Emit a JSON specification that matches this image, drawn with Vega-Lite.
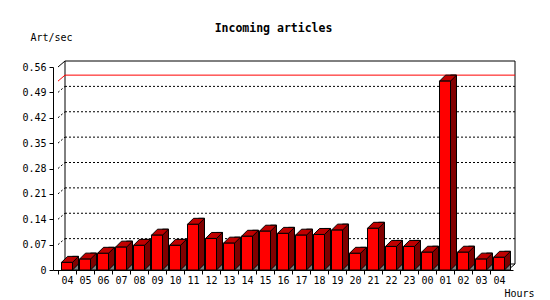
{
  "$schema": "https://vega.github.io/schema/vega-lite/v6.json",
  "width": 460,
  "height": 203,
  "autosize": {"type": "none"},
  "padding": {"left": 53, "top": 67, "right": 37, "bottom": 30},
  "background": "white",
  "config": {
    "view": {"stroke": null},
    "font": "DejaVu Sans Mono",
    "axis": {"labelFont": "DejaVu Sans Mono", "titleFont": "DejaVu Sans Mono", "labelFontSize": 10, "titleFontSize": 10, "titleFontWeight": "normal", "labelColor": "black", "titleColor": "black", "domainColor": "black", "tickColor": "black", "grid": false, "labelOverlap": false, "labelFlush": false, "labelBound": false}
  },
  "title": {"text": "Incoming articles", "font": "DejaVu Sans Mono", "fontSize": 11.5, "fontWeight": "bold", "color": "black", "frame": "group", "anchor": "middle", "dx": -9.5, "offset": -11, "baseline": "alphabetic"},
  "datasets": {
    "rates": [
      {"i": 0, "hour": "04", "rate": 0.021},
      {"i": 1, "hour": "05", "rate": 0.030},
      {"i": 2, "hour": "06", "rate": 0.046},
      {"i": 3, "hour": "07", "rate": 0.063},
      {"i": 4, "hour": "08", "rate": 0.068},
      {"i": 5, "hour": "09", "rate": 0.096},
      {"i": 6, "hour": "10", "rate": 0.068},
      {"i": 7, "hour": "11", "rate": 0.126},
      {"i": 8, "hour": "12", "rate": 0.087},
      {"i": 9, "hour": "13", "rate": 0.074},
      {"i": 10, "hour": "14", "rate": 0.093},
      {"i": 11, "hour": "15", "rate": 0.107},
      {"i": 12, "hour": "16", "rate": 0.101},
      {"i": 13, "hour": "17", "rate": 0.096},
      {"i": 14, "hour": "18", "rate": 0.098},
      {"i": 15, "hour": "19", "rate": 0.110},
      {"i": 16, "hour": "20", "rate": 0.046},
      {"i": 17, "hour": "21", "rate": 0.115},
      {"i": 18, "hour": "22", "rate": 0.065},
      {"i": 19, "hour": "23", "rate": 0.065},
      {"i": 20, "hour": "00", "rate": 0.049},
      {"i": 21, "hour": "01", "rate": 0.521},
      {"i": 22, "hour": "02", "rate": 0.049},
      {"i": 23, "hour": "03", "rate": 0.030},
      {"i": 24, "hour": "04", "rate": 0.035}
    ],
    "grid": [{"v": 0.07}, {"v": 0.14}, {"v": 0.21}, {"v": 0.28}, {"v": 0.35}, {"v": 0.42}, {"v": 0.49}],
    "one": [{"k": 1}]
  },
  "layer": [
    {
      "data": {"name": "one"},
      "mark": {"type": "rect", "fill": "white", "fillOpacity": 0, "stroke": "black", "strokeWidth": 1, "xOffset": 7, "x2Offset": 7, "yOffset": -6, "y2Offset": -6},
      "encoding": {
        "x": {"datum": -0.5, "type": "quantitative", "scale": {"domain": [-0.5, 24.5], "nice": false, "zero": false},
          "axis": {
            "values": [0,1,2,3,4,5,6,7,8,9,10,11,12,13,14,15,16,17,18,19,20,21,22,23,24],
            "tickCount": 30,
            "labelExpr": "['04','05','06','07','08','09','10','11','12','13','14','15','16','17','18','19','20','21','22','23','00','01','02','03','04'][datum.value]",
            "tickOffset": -9.2, "labelOffset": 9.2, "tickSize": 4, "labelPadding": 1,
            "labelAngle": 0, "labelFlush": false, "labelOverlap": false, "labelBound": false,
            "title": "Hours", "titleX": 451, "titleY": 26, "titleAlign": "left", "titleBaseline": "alphabetic"
          }},
        "x2": {"datum": 24.5},
        "y": {"datum": 0, "type": "quantitative", "scale": {"domain": [0, 0.56], "nice": false},
          "axis": {
            "values": [0, 0.07, 0.14, 0.21, 0.28, 0.35, 0.42, 0.49, 0.56],
            "tickCount": 12,
            "labelExpr": "datum.value == 0 ? '0' : format(datum.value, '.2f')",
            "tickSize": 4, "labelPadding": 3, "labelFlush": false, "labelOverlap": false,
            "title": "Art/sec", "titleAngle": 0, "titleX": -23, "titleY": -27, "titleAlign": "left", "titleBaseline": "alphabetic"
          }},
        "y2": {"datum": 0.56}
      }
    },
    {
      "data": {"name": "grid"},
      "mark": {"type": "rule", "color": "black", "strokeWidth": 1, "strokeDash": [2, 2], "xOffset": 7, "x2Offset": 7, "yOffset": -6, "y2Offset": -6},
      "encoding": {
        "x": {"datum": -0.5, "type": "quantitative"},
        "x2": {"datum": 24.5},
        "y": {"field": "v", "type": "quantitative"},
        "y2": {"field": "v"}
      }
    },
    {
      "data": {"name": "grid"},
      "mark": {"type": "rule", "color": "black", "strokeWidth": 1, "strokeDash": [2, 2], "x2Offset": 7, "y2Offset": -6},
      "encoding": {
        "x": {"datum": -0.5, "type": "quantitative"},
        "x2": {"datum": -0.5},
        "y": {"field": "v", "type": "quantitative"},
        "y2": {"field": "v"}
      }
    },
    {
      "data": {"name": "rates"},
      "transform": [{"aggregate": [{"op": "max", "field": "rate", "as": "peak"}]}],
      "mark": {"type": "rule", "color": "#ff0000", "strokeWidth": 1, "xOffset": 7, "x2Offset": 7, "yOffset": -6, "y2Offset": -6},
      "encoding": {
        "x": {"datum": -0.5, "type": "quantitative"},
        "x2": {"datum": 24.5},
        "y": {"field": "peak", "type": "quantitative"},
        "y2": {"field": "peak"}
      }
    },
    {
      "data": {"name": "rates"},
      "transform": [{"aggregate": [{"op": "max", "field": "rate", "as": "peak"}]}],
      "mark": {"type": "rule", "color": "#ff0000", "strokeWidth": 1, "x2Offset": 7, "y2Offset": -6},
      "encoding": {
        "x": {"datum": -0.5, "type": "quantitative"},
        "x2": {"datum": -0.5},
        "y": {"field": "peak", "type": "quantitative"},
        "y2": {"field": "peak"}
      }
    },
    {
      "data": {"name": "one"},
      "mark": {"type": "rule", "color": "black", "strokeWidth": 1, "x2Offset": 7, "y2Offset": -6},
      "encoding": {
        "x": {"datum": -0.5, "type": "quantitative"},
        "x2": {"datum": -0.5},
        "y": {"datum": 0.56, "type": "quantitative"},
        "y2": {"datum": 0.56}
      }
    },
    {
      "data": {"name": "one"},
      "mark": {"type": "rule", "color": "black", "strokeWidth": 1, "x2Offset": 7, "y2Offset": -6},
      "encoding": {
        "x": {"datum": 24.5, "type": "quantitative"},
        "x2": {"datum": 24.5},
        "y": {"datum": 0, "type": "quantitative"},
        "y2": {"datum": 0}
      }
    },
    {
      "data": {"name": "rates"},
      "mark": {"type": "bar", "width": 6, "xOffset": 8.5, "yOffset": -6, "y2Offset": 0, "fill": "#800000", "stroke": "black", "strokeWidth": 1},
      "encoding": {
        "x": {"field": "i", "type": "quantitative"},
        "y": {"field": "rate", "type": "quantitative"},
        "y2": {"datum": 0}
      }
    },
    {
      "data": {"name": "rates"},
      "mark": {"type": "point", "shape": "M5.5,0L11.5,-6L11.5,0Z", "size": 4, "filled": true, "fill": "#808080", "stroke": "black", "strokeWidth": 1, "opacity": 1},
      "encoding": {
        "x": {"field": "i", "type": "quantitative"},
        "y": {"datum": 0, "type": "quantitative"}
      }
    },
    {
      "data": {"name": "rates"},
      "mark": {"type": "point", "shape": "M-5.5,0L5.5,0L11.5,-6L0.5,-6Z", "size": 4, "filled": true, "fill": "#c00000", "stroke": "black", "strokeWidth": 1, "opacity": 1},
      "encoding": {
        "x": {"field": "i", "type": "quantitative"},
        "y": {"field": "rate", "type": "quantitative"}
      }
    },
    {
      "data": {"name": "rates"},
      "mark": {"type": "bar", "width": 11, "fill": "#ff0000", "stroke": "black", "strokeWidth": 1},
      "encoding": {
        "x": {"field": "i", "type": "quantitative"},
        "y": {"field": "rate", "type": "quantitative"}
      }
    }
  ]
}
